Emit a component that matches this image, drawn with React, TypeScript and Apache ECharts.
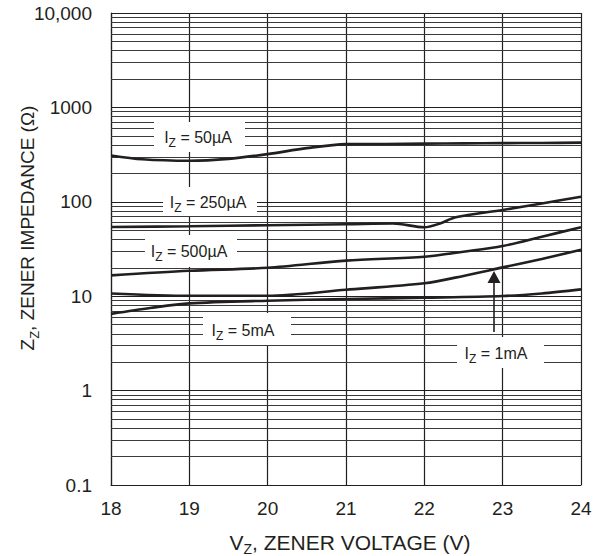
import React, { useEffect, useRef } from "react";
import * as echarts from "echarts";

// Axis ticks
const xMin = 18;
const xMax = 24;
const yMin = 0.1;
const yMax = 10000;
const yTickLabels: Record<string, string> = { "0.1": "0.1", "1": "1", "10": "10", "100": "100", "1000": "1000", "10000": "10,000" };
const decades = [0.1, 1, 10, 100, 1000];
const minorMultipliers = [2, 3, 4, 5, 6, 7, 8, 9];

// Series: [Vz (V), Zz (ohm)]
const iz50uA: [number, number][] = [
  [18, 310], [18.4, 282], [19, 272], [19.5, 285], [20, 320], [20.5, 370], [21, 408],
  [21.5, 410], [22, 413], [22.5, 416], [23, 418], [23.5, 420], [24, 423],
];
const iz250uA: [number, number][] = [
  [18, 54], [19, 55], [20, 56.5], [21, 57.8], [21.6, 58.9], [22, 53.7],
  [22.2, 58.9], [22.4, 68.6], [23, 82], [23.5, 96], [24, 113],
];
const iz500uA: [number, number][] = [
  [18, 16.6], [19, 18.6], [20, 20.0], [21, 23.8], [22, 26.2], [22.5, 29.6], [23, 34],
  [23.5, 42.7], [24, 53.7],
];
const iz1mA: [number, number][] = [
  [18, 10.7], [19, 10.1], [20, 10.1], [21, 11.7], [22, 13.7], [22.5, 16.4],
  [23, 20.2], [23.5, 24.8], [24, 31],
];
const iz5mA: [number, number][] = [
  [18, 6.5], [18.5, 7.5], [19, 8.4], [20, 8.96], [21, 9.33], [22, 9.64], [23, 10.05],
  [23.5, 10.7], [24, 11.8],
];

const FONT = "'Liberation Sans', Arial, Helvetica, sans-serif";
const INK = "#231f20";

function curve(name: string, data: [number, number][]) {
  return {
    name,
    type: "line",
    data,
    smooth: 0.3,
    symbol: "none",
    z: 10,
    lineStyle: { color: INK, width: 2.6 },
  };
}

function label(text: string, sub: string, rest: string, cx: number, cy: number, rx: number, ry: number, rw: number, rh: number) {
  return [
    { type: "rect", z: 5, shape: { x: rx, y: ry, width: rw, height: rh }, style: { fill: "#ffffff" } },
    {
      type: "text",
      z: 6,
      x: cx,
      y: cy,
      style: {
        text: `{n|${text}}{s|${sub}}{n|${rest}}`,
        align: "center",
        verticalAlign: "middle",
        rich: {
          n: { fontFamily: FONT, fontSize: 16, lineHeight: 24, fill: INK },
          s: { fontFamily: FONT, fontSize: 12, lineHeight: 12, padding: [12, 0, 0, 0], fill: INK },
        },
      },
    },
  ];
}

export default function App() {
  const ref = useRef<HTMLDivElement>(null);
  useEffect(() => {
    if (!ref.current) return;
    const chart = echarts.init(ref.current, undefined, { renderer: "svg" });
    const minorLines: { yAxis: number }[] = [];
    decades.forEach((d) => minorMultipliers.forEach((m) => minorLines.push({ yAxis: +(d * m).toPrecision(3) })));

    chart.setOption({
      animation: false,
      backgroundColor: "#ffffff",
      grid: { left: 111, right: 25, top: 13, bottom: 71, containLabel: false },
      xAxis: {
        type: "value",
        min: xMin,
        max: xMax,
        interval: 1,
        axisLine: { show: true, lineStyle: { color: INK, width: 1.2 } },
        axisTick: { show: false },
        axisLabel: { color: INK, fontFamily: FONT, fontSize: 19, margin: 14 },
        splitLine: { show: true, lineStyle: { color: INK, width: 1.2 } },
      },
      yAxis: {
        type: "log",
        logBase: 10,
        min: yMin,
        max: yMax,
        axisLine: { show: true, lineStyle: { color: INK, width: 1.2 } },
        axisTick: { show: false },
        axisLabel: {
          color: INK,
          fontFamily: FONT,
          fontSize: 19,
          margin: 19,
          formatter: (v: number) => yTickLabels[String(+v.toPrecision(3))] ?? String(v),
        },
        splitLine: { show: true, lineStyle: { color: INK, width: 1.2 } },
      },
      series: [
        {
          name: "minor-grid",
          type: "line",
          data: [],
          z: 1,
          silent: true,
          markLine: {
            silent: true,
            z: 1,
            symbol: ["none", "none"],
            label: { show: false },
            lineStyle: { color: "#3a3a3a", width: 1, type: "solid" },
            data: minorLines,
          },
        },
        curve("IZ = 50µA", iz50uA),
        curve("IZ = 250µA", iz250uA),
        curve("IZ = 500µA", iz500uA),
        curve("IZ = 1mA", iz1mA),
        curve("IZ = 5mA", iz5mA),
      ],
      graphic: [
        ...label("I", "Z", " = 50µA", 198, 137, 154, 122, 91, 30),
        ...label("I", "Z", " = 250µA", 208, 202, 163, 187, 94, 29),
        ...label("I", "Z", " = 500µA", 189, 251, 145, 235, 92, 32),
        ...label("I", "Z", " = 5mA", 243, 330, 203, 313, 88, 32),
        ...label("I", "Z", " = 1mA", 496, 353, 457, 337, 87, 31),
        { type: "line", z: 12, shape: { x1: 494, y1: 332, x2: 494, y2: 280 }, style: { stroke: INK, lineWidth: 1.6 } },
        { type: "polygon", z: 12, shape: { points: [[494, 271], [487.5, 283], [500.5, 283]] }, style: { fill: INK } },
        {
          type: "text",
          z: 6,
          x: 350,
          y: 542,
          style: {
            text: "{n|V}{s|Z}{n|, ZENER VOLTAGE (V)}",
            align: "center",
            verticalAlign: "middle",
            rich: {
              n: { fontFamily: FONT, fontSize: 21, lineHeight: 28, fill: INK },
              s: { fontFamily: FONT, fontSize: 14, lineHeight: 14, padding: [14, 0, 0, 0], fill: INK },
            },
          },
        },
        {
          type: "text",
          z: 6,
          x: 27,
          y: 228,
          rotation: Math.PI / 2,
          style: {
            text: "{n|Z}{s|Z}{n|, ZENER IMPEDANCE (Ω)}",
            align: "center",
            verticalAlign: "middle",
            rich: {
              n: { fontFamily: FONT, fontSize: 19, lineHeight: 28, fill: INK },
              s: { fontFamily: FONT, fontSize: 13, lineHeight: 13, padding: [15, 0, 0, 0], fill: INK },
            },
          },
        },
      ],
    });
    return () => chart.dispose();
  }, []);
  return <div ref={ref} style={{ position: "fixed", left: 0, top: 0, width: 606, height: 556 }} />;
}
